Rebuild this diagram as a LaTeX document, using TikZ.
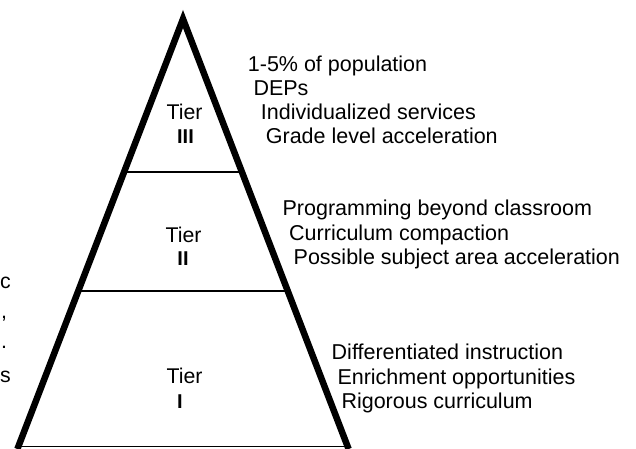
\documentclass[tikz,border=0pt]{standalone}
\usepackage{fontspec}
\setmainfont{Liberation Sans}
\begin{document}
\begin{tikzpicture}[x=1pt,y=-1pt,
  side/.style={line width=6.5pt, line join=miter, miter limit=10},
  rule/.style={line width=1.3pt},
  note/.style={inner sep=0pt, font=\fontsize{21.5}{25}\selectfont, anchor=base west},
  tiername/.style={inner sep=0pt, font=\fontsize{21.3}{25}\selectfont, anchor=base},
  tiernum/.style={inner sep=0pt, font=\fontsize{20}{24}\selectfont\bfseries, anchor=base},
  edge/.style={inner sep=0pt, font=\fontsize{21.3}{25}\selectfont, anchor=base west}]
\useasboundingbox (0,0) rectangle (636,448);

% pyramid outline: thick sloping sides, thin base
\coordinate (apex) at (183,19);
\coordinate (bl) at (17.4,449);
\coordinate (br) at (348.6,449);
\coordinate (base1) at (20,446.5);
\coordinate (base2) at (346,446.5);
\draw[side] (bl) -- (apex) -- (br);
\draw[rule] (base1) -- (base2);

% tier dividers
\coordinate (d3l) at (124.1,172);
\coordinate (d3r) at (241.9,172);
\coordinate (d2l) at (78.3,291);
\coordinate (d2r) at (287.7,291);
\draw[rule] (d3l) -- (d3r);
\draw[rule] (d2l) -- (d2r);

% tier names
\node[tiername] (t3) at (184.5,119.5) {Tier};
\node[tiernum]  (n3) at (185.5,143) {III};
\node[tiername] (t2) at (183.5,242) {Tier};
\node[tiernum]  (n2) at (183,265) {II};
\node[tiername] (t1) at (184.5,383.5) {Tier};
\node[tiernum]  (n1) at (180,408) {I};

% tier III services
\node[note] (a1) at (247.7,71) {1-5\% of population};
\node[note] (a2) at (253.3,95) {DEPs};
\node[note] (a3) at (260.7,119.5) {Individualized services};
\node[note] (a4) at (265.7,143.5) {Grade level acceleration};

% tier II services
\node[note] (b1) at (282.4,215.5) {Programming beyond classroom};
\node[note] (b2) at (289,240) {Curriculum compaction};
\node[note] (b3) at (293.5,264.5) {Possible subject area acceleration};

% tier I services
\node[note] (c1) at (331.5,359.5) {Differentiated instruction};
\node[note] (c2) at (337.3,384) {Enrichment opportunities};
\node[note] (c3) at (341.3,408.5) {Rigorous curriculum};

% characters along the left margin
\node[edge] (e1) at (0,288) {c};
\node[edge] (e2) at (1,318) {,};
\node[edge] (e3) at (1,348) {.};
\node[edge] (e4) at (0,382) {s};
\end{tikzpicture}
\end{document}
